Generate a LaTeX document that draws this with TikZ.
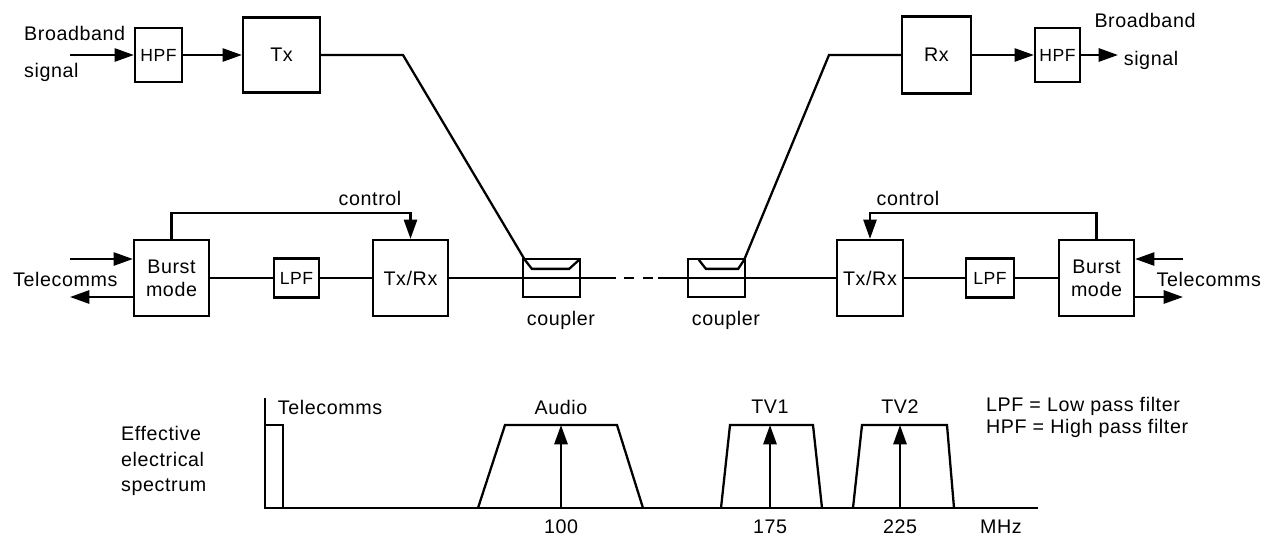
\documentclass[tikz,border=0pt]{standalone}
\usepackage{fontspec}
\setmainfont{Liberation Sans}[LetterSpace=3]
\usetikzlibrary{arrows.meta,calc}

\begin{document}
\begin{tikzpicture}[x=0.02cm,y=-0.02cm, font=\fontsize{11.2}{13}\selectfont,
    line width=1.3pt,
    blk/.style={draw, line width=1.3pt, inner sep=1pt, align=center},
    klein/.style={blk, font=\fontsize{10}{12}\selectfont},
    pfeil/.style={-{Triangle[length=11pt,width=7.5pt]}},
    lbl/.style={inner sep=0pt}]

    % Rahmen
    \useasboundingbox (0,0) rectangle (1264,542);

    % Obere Reihe
    \node[klein, minimum width=0.94cm, minimum height=1.08cm] (hpfL) at (158.5,55) {HPF};
    \node[blk, minimum width=1.54cm, minimum height=1.5cm] (tx) at (281.5,55) {Tx};
    \node[blk, minimum width=1.38cm, minimum height=1.54cm] (rx) at (936.5,55) {Rx};
    \node[klein, minimum width=0.9cm, minimum height=1.08cm] (hpfR) at (1057.5,55) {HPF};

    % Mittlere Reihe
    \node[blk, minimum width=1.5cm, minimum height=1.52cm] (burstL) at (171.5,278) {Burst\\mode};
    \node[klein, minimum width=0.9cm, minimum height=0.78cm] (lpfL) at (296.5,278) {LPF};
    \node[blk, minimum width=1.5cm, minimum height=1.52cm] (txrxL) at (410.5,278) {Tx/Rx};
    \node[blk, minimum width=1.14cm, minimum height=0.76cm] (couplerL) at (551.5,278) {};
    \node[blk, minimum width=1.14cm, minimum height=0.76cm] (couplerR) at (716.5,278) {};
    \node[blk, minimum width=1.32cm, minimum height=1.52cm] (txrxR) at (870,278) {Tx/Rx};
    \node[klein, minimum width=0.96cm, minimum height=0.78cm] (lpfR) at (990,278) {LPF};
    \node[blk, minimum width=1.5cm, minimum height=1.52cm] (burstR) at (1096.5,278) {Burst\\mode};

    % Breitbandsignal
    \coordinate (inL) at (70,55);
    \coordinate (outR) at (1118,55);
    \draw[pfeil] (inL) -- (hpfL);
    \draw[pfeil] (hpfL) -- (tx);
    \draw[pfeil] (rx) -- (hpfR);
    \draw[pfeil] (hpfR) -- (outR);
    \node[lbl, anchor=west] (bbL) at (23,33) {Broadband};
    \node[lbl, anchor=west] (sigL) at (23,72) {signal};
    \node[lbl] (bbR) at (1145,20) {Broadband};
    \node[lbl] (sigR) at (1151,60) {signal};

    % Koppler
    \coordinate (knickL) at (403,55);
    \coordinate (knickR) at (829,55);
    \draw (tx.east) -- (knickL) -- ($(couplerL.north west)+(3,2)$)
        -- ($(couplerL.north west)+(10,11)$) -- ($(couplerL.north east)+(-12,11)$)
        -- ($(couplerL.north east)+(-2,2)$);
    \draw ($(couplerR.north west)+(12,2)$) -- ($(couplerR.north west)+(19,11)$)
        -- ($(couplerR.north east)+(-8,11)$) -- ($(couplerR.north east)+(-2,2)$)
        -- (knickR) -- (rx.west);
    \node[lbl] (koppL) at (561,320) {coupler};
    \node[lbl] (koppR) at (726,320) {coupler};

    % Leitung
    \draw (burstL) -- (lpfL);
    \draw (lpfL) -- (txrxL);
    \draw (txrxL.east) -- (couplerL.east);
    \draw[dash pattern=on 19.8pt off 4.5pt on 5.7pt off 5.1pt on 5.7pt off 2.8pt on 20pt]
        (couplerL.east) -- (couplerR.west);
    \draw (couplerR.west) -- (txrxR.west);
    \draw (txrxR) -- (lpfR);
    \draw (lpfR) -- (burstR);

    % Steuerung
    \draw[pfeil] (burstL.north) -- ++(0,-26) -| (txrxL.north);
    \draw[pfeil] (burstR.north) -- ++(0,-26) -| (txrxR.north);
    \node[lbl] (ctrlL) at (370,198) {control};
    \node[lbl] (ctrlR) at (908,198) {control};

    % Telecomms
    \coordinate (telinL) at (70,259);
    \coordinate (teloutL) at (70,297);
    \coordinate (telinR) at (1183,259);
    \coordinate (teloutR) at (1183,297);
    \draw[pfeil] (telinL) -- (telinL -| burstL.west);
    \draw[pfeil] (teloutL -| burstL.west) -- (teloutL);
    \draw[pfeil] (telinR) -- (telinR -| burstR.east);
    \draw[pfeil] (teloutR -| burstR.east) -- (teloutR);
    \node[lbl, anchor=west] (telL) at (12,279) {Telecomms};
    \node[lbl, anchor=east] (telR) at (1262,279) {Telecomms};

    % Spektrum
    \draw (265,398) -- (265,508) -- (1038,508);
    \draw (265,425) -- (283,425) -- (283,508);
    \draw (478,508) -- (505,425) -- (617,425) -- (643,508);
    \draw (721,508) -- (730,425) -- (813,425) -- (822,508);
    \draw (853,508) -- (862,425) -- (947,425) -- (954,508);
    \foreach \x in {561,770,900}
        \draw[pfeil] (\x,508) -- (\x,425);

    \node[lbl, anchor=west, align=left, font=\fontsize{11.2}{14.7}\selectfont] (spekt) at (120,461)
        {Effective\\electrical\\spectrum};
    \node[lbl] (telS) at (330,407) {Telecomms};
    \node[lbl] (audio) at (561,407) {Audio};
    \node[lbl] (tvA) at (770,407) {TV1};
    \node[lbl] (tvB) at (900,407) {TV2};
    \node[lbl] (fA) at (561,527) {100};
    \node[lbl] (fB) at (770,527) {175};
    \node[lbl] (fC) at (900,527) {225};
    \node[lbl] (mhz) at (1001,527) {MHz};

    % Legende
    \node[lbl, anchor=west] (legA) at (985,406) {LPF = Low pass filter};
    \node[lbl, anchor=west] (legB) at (985,428) {HPF = High pass filter};

\end{tikzpicture}
\end{document}
